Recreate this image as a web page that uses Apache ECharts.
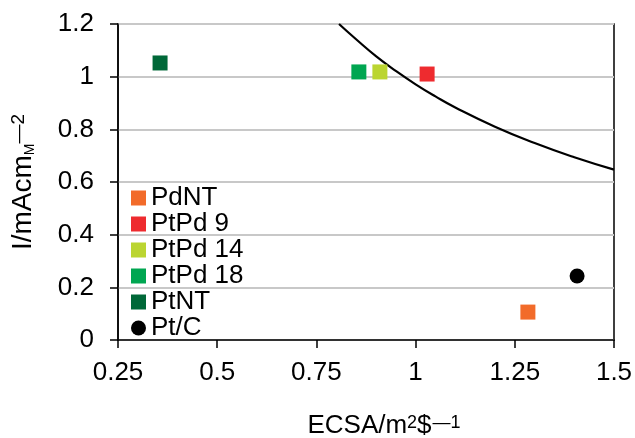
<!DOCTYPE html>
<html>
<head>
<meta charset="utf-8">
<script src="https://cdn.jsdelivr.net/npm/echarts@6/dist/echarts.min.js"></script>
<style>
  html, body { margin: 0; padding: 0; background: #fff; }
  #chart { width: 635px; height: 438px; }
</style>
</head>
<body>
<div id="chart"></div>
<script>
// samples (ECSA, current)
const seriesNames = ['PdNT', 'PtPd 9', 'PtPd 14', 'PtPd 18', 'PtNT', 'Pt/C'];
const seriesColors = ['#F26B2A', '#EE2B2F', '#BBD531', '#00A651', '#006838', '#000000'];
const seriesSymbols = ['rect', 'rect', 'rect', 'rect', 'rect', 'circle'];
const pdntData = [[1.283, 0.106]];
const ptpd9Data = [[1.029, 1.01]];
const ptpd14Data = [[0.91, 1.018]];
const ptpd18Data = [[0.857, 1.018]];
const ptntData = [[0.356, 1.052]];
const ptcData = [[1.407, 0.243]];

// curve
const curveX = [0.807, 0.85, 0.9, 0.95, 1.0, 1.05, 1.1, 1.2, 1.3, 1.4, 1.5];
const curveY = [1.2, 1.142, 1.078, 1.022, 0.971, 0.925, 0.883, 0.81, 0.748, 0.694, 0.647];

const xTicks = { min: 0.25, max: 1.5, interval: 0.25 };
const yTicks = { min: 0, max: 1.2, interval: 0.2 };

const font = 'Liberation Sans, Arial, sans-serif';
const allData = [pdntData, ptpd9Data, ptpd14Data, ptpd18Data, ptntData, ptcData];

const series = seriesNames.map((name, i) => ({
  name: name,
  type: 'scatter',
  symbol: seriesSymbols[i],
  symbolSize: 15,
  itemStyle: { color: seriesColors[i], opacity: 1 },
  z: 3,
  data: allData[i],
}));

series.push({
  name: 'curve',
  type: 'line',
  smooth: true,
  showSymbol: false,
  symbol: 'none',
  lineStyle: { color: '#000', width: 2.2 },
  data: curveX.map((x, i) => [x, curveY[i]]),
  z: 2,
});

const option = {
  animation: false,
  textStyle: { fontFamily: font },
  grid: {
    left: 118,
    right: 21,
    top: 24,
    bottom: 98,
    outerBoundsMode: 'none',
    containLabel: false,
    show: true,
    borderColor: '#000',
    borderWidth: 1.5,
  },
  legend: {
    data: seriesNames.map((n, i) => ({ name: n, icon: seriesSymbols[i], itemStyle: { opacity: 1 } })),
    orient: 'vertical',
    left: 126,
    top: 180,
    itemWidth: 15,
    itemHeight: 15,
    itemGap: 0,
    textStyle: { fontSize: 26, lineHeight: 25, color: '#000', fontFamily: font },
  },
  xAxis: {
    type: 'value',
    min: xTicks.min,
    max: xTicks.max,
    interval: xTicks.interval,
    name: '{n|ECSA/m}{s|2}{n|$}{s2|\u20141}',
    nameLocation: 'middle',
    nameGap: 73,
    nameTextStyle: {
      padding: [0, 0, 0, 36],
      rich: {
        n: { fontSize: 26, color: '#000', fontFamily: font },
        s: { fontSize: 18, color: '#000', fontFamily: font, verticalAlign: 'top', padding: [1, 0, 0, 0] },
        s2: { fontSize: 18, color: '#000', fontFamily: font, verticalAlign: 'top', padding: [1, 0, 0, 1] },
      },
    },
    axisLine: { show: true, lineStyle: { color: '#000', width: 1.5 } },
    axisTick: { show: true, length: 8, lineStyle: { color: '#000', width: 1.5 } },
    axisLabel: { fontSize: 26, color: '#000', margin: 20, fontFamily: font },
    splitLine: { show: false },
  },
  yAxis: {
    type: 'value',
    min: yTicks.min,
    max: yTicks.max,
    interval: yTicks.interval,
    name: '{n|I/mAcm}{sub|M}{sup|\u20142}',
    nameLocation: 'middle',
    nameGap: 81,
    nameTextStyle: {
      rich: {
        n: { fontSize: 28, color: '#000', fontFamily: font },
        sub: { fontSize: 14, color: '#000', fontFamily: font, verticalAlign: 'bottom' },
        sup: { fontSize: 19, color: '#000', fontFamily: font, verticalAlign: 'top' },
      },
    },
    axisLine: { show: true, lineStyle: { color: '#000', width: 1.5 } },
    axisTick: { show: true, length: 8, lineStyle: { color: '#000', width: 1.5 } },
    axisLabel: { fontSize: 26, color: '#000', margin: 24, fontFamily: font },
    splitLine: { show: true, lineStyle: { color: '#C8C8C8', width: 2 } },
  },
  series: series,
};

const myChart = echarts.init(document.getElementById('chart'));
myChart.setOption(option);
</script>
</body>
</html>
